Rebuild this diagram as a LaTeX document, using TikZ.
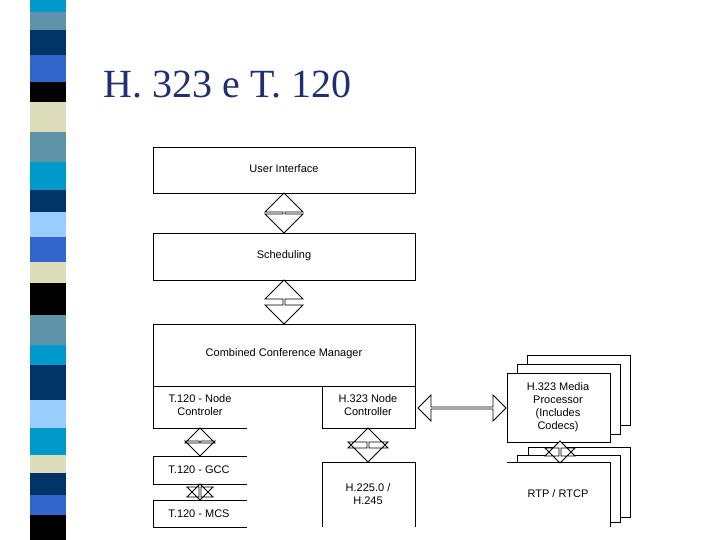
\documentclass[tikz,border=0pt]{standalone}
\usepackage{fontspec}
\setmainfont{Liberation Sans}
\newfontfamily\titlefont{Liberation Serif}
\usetikzlibrary{shapes.arrows}
\definecolor{cCy}{HTML}{0099CC}\definecolor{cSt}{HTML}{5F93AA}\definecolor{cNv}{HTML}{003366}
\definecolor{cBl}{HTML}{3366CC}\definecolor{cBe}{HTML}{DDDDBB}\definecolor{cLb}{HTML}{99CCFF}
\definecolor{cTi}{HTML}{1F2F6F}
\begin{document}
\begin{tikzpicture}[x=1pt,y=-1pt,
  lbl/.style={font=\fontsize{11}{13}\selectfont, align=center},
  box/.style={draw, thick, fill=white},
  darr/.style={double arrow, draw, fill=white, inner sep=0pt, double arrow head extend=7pt},
  line width=0.8pt]
\useasboundingbox (0,0) rectangle (720,540);
% stripes
\foreach \a/\b/\c in {0/12/cCy,12/30/cSt,30/55/cNv,55/82/cBl,82/102/black,102/132/cBe,132/162/cSt,162/190/cCy,190/212/cNv,212/237/cLb,237/262/cBl,262/283/cBe,283/315/black,315/345/cSt,345/365/cCy,365/400/cNv,400/428/cLb,428/455/cCy,455/473/cBe,473/495/cNv,495/515/cBl,515/540/black}
  \fill[\c] (30,\a) rectangle (66,\b);
\node[anchor=base west, text=cTi, font=\titlefont\fontsize{40}{44}\selectfont] (title) at (100,98) {H. 323 e T. 120};
% main boxes
\draw[box] (153,147) rectangle (415,193);
\node[lbl] (ui) at (284,169) {User Interface};
\draw[box] (153,233) rectangle (415,280);
\node[lbl] (sch) at (284,256) {Scheduling};
\draw[box] (153,324) rectangle (415,386);
\node[lbl] (ccm) at (284,354) {Combined Conference Manager};
\draw (153,386) -- (153,428) -- (247,428);
\node[lbl] (t120nc) at (200,405) {T.120 - Node\\Controler};
\draw (322,386) rectangle (415,428);
\node[lbl] (h323nc) at (368,405) {H.323 Node\\Controller};
\draw (247,456) -- (153,456) -- (153,484) -- (247,484);
\node[lbl] (gcc) at (199,470) {T.120 - GCC};
\draw (247,500) -- (153,500) -- (153,527) -- (247,527);
\node[lbl] (mcs) at (199,514) {T.120 - MCS};
\draw (322,527) -- (322,462) -- (415,462) -- (415,527);
\node[lbl] (h225) at (368,494) {H.225.0 /\\H.245};
% media stacks
\draw[box] (527,355) rectangle (630,425);
\draw[box] (517,364) rectangle (620,434);
\draw[box] (507,373) rectangle (610,442);
\node[lbl] (mp) at (558,407) {H.323 Media\\Processor\\(Includes\\Codecs)};
\draw[box] (528,447) rectangle (630,517);
\draw[box] (517,455) rectangle (620,522);
\draw[fill=white,draw=none] (507,462) rectangle (610,527);
\draw (507,462) -- (610,462) -- (610,527);
\node[lbl] (rtp) at (558,494) {RTP / RTCP};
% arrows
\node[darr, rotate=90, minimum height=40pt, minimum width=38pt] (a1) at (284,213) {};
\node[darr, rotate=90, minimum height=44pt, minimum width=38pt] (a2) at (284,302) {};
\node[darr, rotate=90, minimum height=28pt, minimum width=30pt] (a3) at (200,442) {};
\node[darr, rotate=90, minimum height=16pt, minimum width=26pt, double arrow head extend=5pt] (a4) at (200,492) {};
\node[darr, rotate=90, minimum height=34pt, minimum width=40pt] (a5) at (368,445) {};
\node[darr, minimum height=88pt, minimum width=26pt, double arrow head extend=5pt] (a6) at (462,408) {};
\node[darr, rotate=90, minimum height=22pt, minimum width=30pt, double arrow head extend=6pt] (a7) at (560,452) {};
\end{tikzpicture}
\end{document}
